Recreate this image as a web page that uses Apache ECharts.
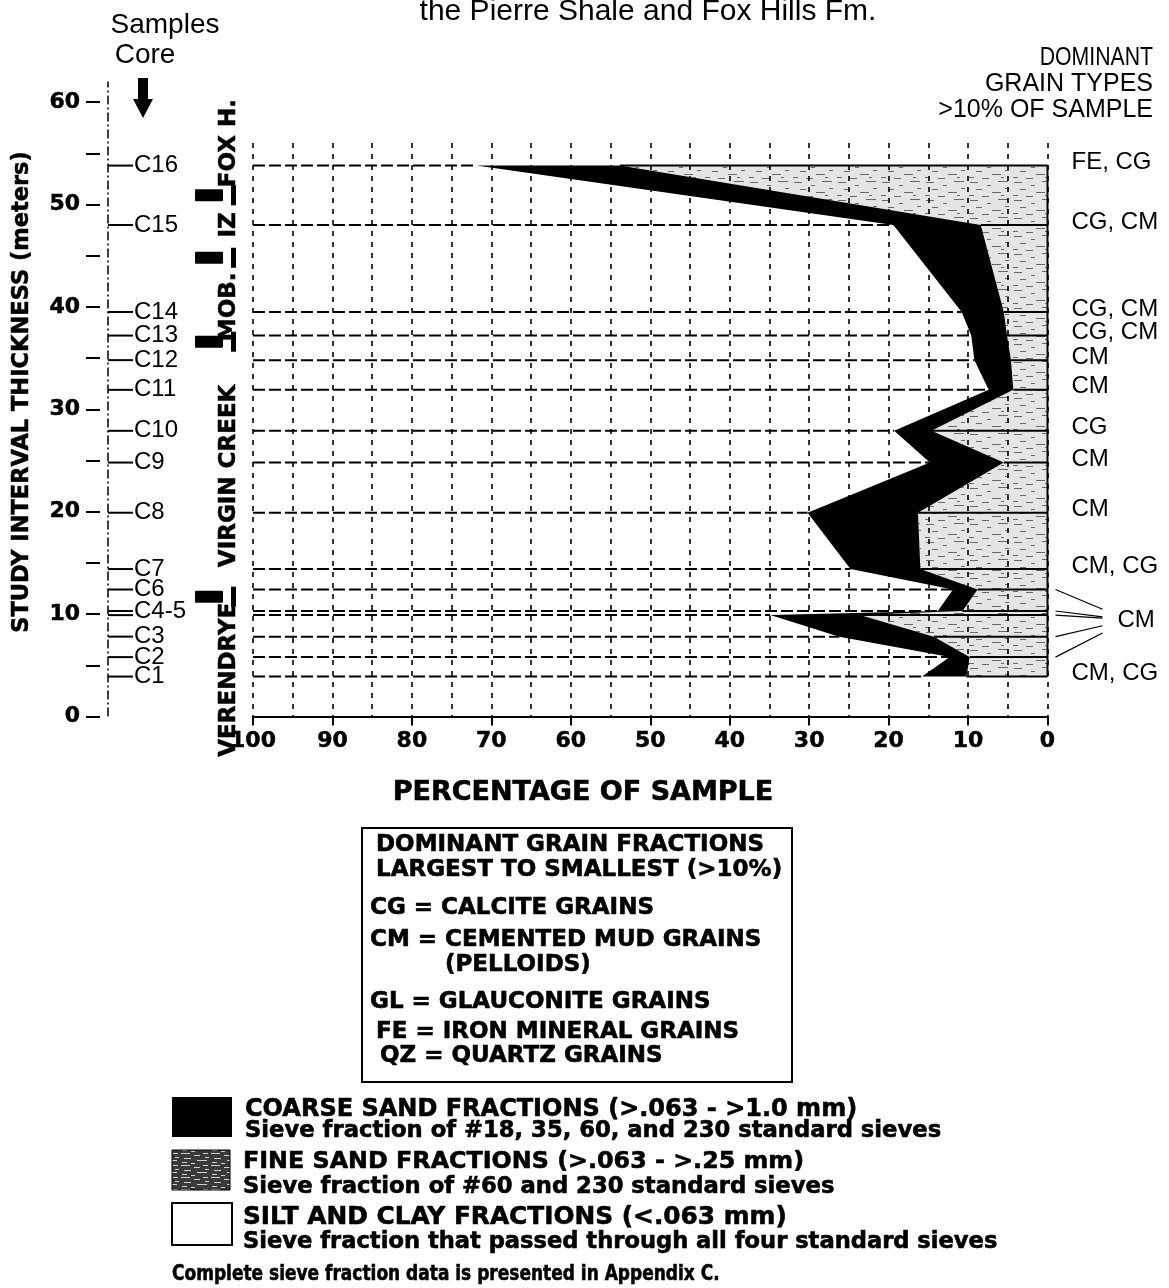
<!DOCTYPE html>
<html>
<head>
<meta charset="utf-8">
<script src="https://cdn.jsdelivr.net/npm/echarts@6/dist/echarts.min.js"></script>
<style>
  html, body { margin: 0; padding: 0; background: #fff; }
  #chart { width: 1169px; height: 1288px; }
</style>
</head>
<body>
<div id="chart"></div>
<script>
// ---- Sieve data, one entry per core sample (top to bottom) ----
const samples      = ['C16','C15','C14','C13','C12','C11','C10','C9','C8','C7','C6','C5','C4','C3','C2','C1'];
const sampleLabels = ['C16','C15','C14','C13','C12','C11','C10','C9','C8','C7','C6','C4-5','','C3','C2','C1'];
// depth of each sample above base of study interval (m)
const depths       = [53.8, 48.0, 39.5, 37.2, 34.8, 31.9, 27.9, 24.8, 19.9, 14.4, 12.4, 10.3, 9.9, 7.8, 5.8, 3.9];
// fine + coarse sand, cumulative (% of sample)
const sandTotal    = [71.9, 19.4, 10.8, 9.6, 9.2, 7.4, 19.3, 14.8, 30.2, 24.8, 11.9, 13.8, 34.9, 26.2, 12.3, 15.8];
// fine sand (% of sample)
const fineSand     = [53.8, 8.4, 5.5, 5.1, 4.6, 4.3, 14.6, 5.5, 16.3, 16.0, 8.8, 10.7, 23.6, 14.3, 9.8, 10.2];
// dominant grain types (>10% of sample)
const grainTypes   = ['FE, CG','CG, CM','CG, CM','CG, CM','CM','CM','CG','CM','CM','CM, CG','CM','CM','CM','CM','CM','CM, CG'];
const groupedSamples = ['C6','C5','C4','C3','C2'];

// ---- Formations ----
const formations          = ['FOX H.', 'IZ', 'MOB.', 'VIRGIN CREEK', 'VERENDRYE'];
const formationLabelDepth = [56.0, 48.0, 40.0, 23.5, 3.6];
const formationBoundaries = [50.9, 44.8, 36.6, 11.7];

// ---- Axis ticks ----
const percentTicks = [100, 90, 80, 70, 60, 50, 40, 30, 20, 10, 0];
const depthTicks   = [0, 10, 20, 30, 40, 50, 60];

// ---- Layout (pixels) ----
const BASE_Y = 716.5, PX_PER_M = 10.24;
const MAIN_LEFT = 253, MAIN_RIGHT = 1047.5;
const MAIN_TOP_M = 56, CORE_TOP_M = 60, CORE_LINE_TOP_M = 62;

const BOLD = '"DejaVu Sans"';
const REG = '"Liberation Sans", Arial, sans-serif';

function makePattern(w, h, bg, fg, marks) {
  const c = document.createElement('canvas');
  c.width = w; c.height = h;
  const g = c.getContext('2d');
  g.fillStyle = bg; g.fillRect(0, 0, w, h);
  g.fillStyle = fg;
  marks.forEach(m => g.fillRect(m[0], m[1], m[2], m[3]));
  return c;
}
// light stipple for the fine sand fraction
const stippleArea = makePattern(44, 18, 'rgba(0,0,0,0.10)', 'rgba(0,0,0,0.55)',
  [[2,2,8,1],[19,5,4,1],[30,1,10,1],[8,9,6,1],[24,12,9,1],[37,8,4,1],[1,15,5,1],[14,16,7,1],[33,15,3,1]]);
// dense stipple for the key swatch
const stippleKey = makePattern(30, 12, '#3a3a3a', '#d0d0d0',
  [[1,1,9,1],[14,3,6,1],[23,1,5,1],[4,6,7,1],[17,8,10,1],[2,10,5,1],[11,11,4,1],[25,5,4,1]]);
const pat = (c) => ({ type: 'pattern', image: c, repeat: 'repeat' });

const chart = echarts.init(document.getElementById('chart'), null, { renderer: 'canvas' });

// fine sand fraction: area from 0 % out to the fine sand curve
function renderFine(params, api) {
  const pts = [api.coord([0, depths[0]])];
  for (let i = 0; i < depths.length; i++) pts.push(api.coord([fineSand[i], depths[i]]));
  pts.push(api.coord([0, depths[depths.length - 1]]));
  return { type: 'polygon', shape: { points: pts }, style: { fill: pat(stippleArea) } };
}
// coarse sand fraction: band between fine sand curve and total sand curve
function renderCoarse(params, api) {
  const pts = [];
  for (let i = 0; i < depths.length; i++) pts.push(api.coord([sandTotal[i], depths[i]]));
  for (let i = depths.length - 1; i >= 0; i--) pts.push(api.coord([fineSand[i], depths[i]]));
  return { type: 'polygon', shape: { points: pts }, style: { fill: '#000' } };
}
// sample horizons: dashed across the silt/clay field, solid across the fine sand field
function renderHorizons(params, api) {
  const i = params.dataIndex, d = depths[i];
  const a = api.coord([100, d]), b = api.coord([sandTotal[i], d]);
  const c = api.coord([fineSand[i], d]), e = api.coord([0, d]);
  return { type: 'group', children: [
    { type: 'line', shape: { x1: a[0], y1: a[1], x2: b[0], y2: b[1] },
      style: { stroke: '#000', lineWidth: 2, lineDash: [12, 4] } },
    { type: 'line', shape: { x1: c[0], y1: c[1], x2: e[0], y2: e[1] },
      style: { stroke: '#000', lineWidth: 2 } }
  ] };
}
// right edge of the sampled column
function renderEdge(params, api) {
  const a = api.coord([0, depths[0]]), b = api.coord([0, depths[depths.length - 1]]);
  return { type: 'line', shape: { x1: a[0], y1: a[1], x2: b[0], y2: b[1] },
           style: { stroke: '#000', lineWidth: 2 } };
}
// dominant grain type labels
function renderGrainLabels(params, api) {
  const i = params.dataIndex;
  if (groupedSamples.indexOf(samples[i]) >= 0) return null;
  const p = api.coord([0, depths[i]]);
  return { type: 'text', x: p[0] + 24, y: p[1] - 3,
    style: { text: grainTypes[i], font: '24px ' + REG, fill: '#000',
             textAlign: 'left', textVerticalAlign: 'middle', verticalAlign: 'middle' } };
}
// shared label for closely spaced samples, with leader lines
function renderGroupLabel(params, api) {
  const idx = groupedSamples.map(s => samples.indexOf(s));
  const ys = idx.map(i => api.coord([0, depths[i]])[1]);
  const x0 = api.coord([0, 0])[0];
  const yg = ys.reduce((s, v) => s + v, 0) / ys.length - 2;
  const children = ys.map(y => ({ type: 'line',
    shape: { x1: x0 + 8, y1: y, x2: x0 + 55, y2: yg + (y - yg) * 0.35 },
    style: { stroke: '#000', lineWidth: 1.2 } }));
  children.push({ type: 'text', x: x0 + 70, y: yg,
    style: { text: grainTypes[idx[0]], font: '24px ' + REG, fill: '#000',
             textAlign: 'left', textVerticalAlign: 'middle', verticalAlign: 'middle' } });
  return { type: 'group', children };
}
// core sample ticks on the core axis
function renderSampleTicks(params, api) {
  const i = params.dataIndex, d = depths[i];
  const a = api.coord([8, d]), b = api.coord([33, d]);
  const children = [{ type: 'line', shape: { x1: a[0], y1: a[1], x2: b[0], y2: b[1] },
                      style: { stroke: '#000', lineWidth: 2 } }];
  if (sampleLabels[i]) {
    children.push({ type: 'text', x: b[0] + 1, y: b[1],
      style: { text: sampleLabels[i], font: '24px ' + REG, fill: '#000',
               textAlign: 'left', textVerticalAlign: 'middle', verticalAlign: 'middle' } });
  }
  return { type: 'group', children };
}
// formation contact markers
function renderContacts(params, api) {
  const d = formationBoundaries[params.dataIndex];
  const a = api.coord([95, d]), b = api.coord([123, d]);
  const v = api.coord([131, d]);
  return { type: 'group', children: [
    { type: 'rect', shape: { x: a[0], y: a[1] - 6, width: b[0] - a[0], height: 12, r: 1 }, style: { fill: '#000' } },
    { type: 'rect', shape: { x: v[0], y: v[1] - 10, width: 5, height: 20 }, style: { fill: '#000' } }
  ] };
}
// formation names, vertical
function renderFormations(params, api) {
  const i = params.dataIndex;
  const p = api.coord([129, formationLabelDepth[i]]);
  return { type: 'text', x: p[0], y: p[1], rotation: Math.PI / 2,
    style: { text: formations[i], font: 'bold 23px ' + BOLD, fill: '#000', stroke: '#000', lineWidth: 0.5,
             textAlign: 'center', textVerticalAlign: 'middle', verticalAlign: 'middle' } };
}

function label(x, y, text, font, opts) {
  opts = opts || {};
  const style = { text, font, fill: '#000', textAlign: opts.align || 'left',
                  textVerticalAlign: 'middle', verticalAlign: 'middle' };
  if (opts.heavy) { style.stroke = '#000'; style.lineWidth = opts.heavy; }
  return { type: 'text', x, y, rotation: opts.rot || 0, scaleX: opts.sx || 1, silent: true, style };
}
const B = (size) => 'bold ' + size + 'px ' + BOLD;
const H = { heavy: 0.6 };

const option = {
  animation: false,
  backgroundColor: '#fff',
  grid: [
    { left: MAIN_LEFT, width: MAIN_RIGHT - MAIN_LEFT,
      top: BASE_Y - MAIN_TOP_M * PX_PER_M, height: MAIN_TOP_M * PX_PER_M },
    { left: 100, width: 150,
      top: BASE_Y - CORE_TOP_M * PX_PER_M, height: CORE_TOP_M * PX_PER_M }
  ],
  xAxis: [
    { gridIndex: 0, type: 'value', position: 'bottom', min: 0, max: 100, interval: 5, inverse: true,
      axisLine: { show: false }, axisTick: { show: false }, axisLabel: { show: false },
      splitLine: { show: true, lineStyle: { color: '#000', width: 1.6, type: [5, 6] } } },
    { gridIndex: 0, type: 'value', position: 'bottom', min: 0, max: 100, interval: 10, inverse: true,
      axisLine: { show: true, onZero: false, lineStyle: { color: '#000', width: 2.2 } },
      axisTick: { show: true, length: 9, lineStyle: { color: '#000', width: 2 } },
      axisLabel: { show: true, margin: 14, color: '#000', fontFamily: BOLD, fontWeight: 'bold', fontSize: 22,
                   textBorderColor: '#000', textBorderWidth: 0.5,
                   formatter: v => percentTicks.indexOf(v) >= 0 ? String(v) : '' },
      splitLine: { show: false } },
    { gridIndex: 1, type: 'value', min: 0, max: 150, show: false }
  ],
  yAxis: [
    { gridIndex: 0, type: 'value', min: 0, max: MAIN_TOP_M, show: false },
    { gridIndex: 1, type: 'value', min: 0, max: CORE_TOP_M, interval: 5,
      axisLine: { show: false },
      axisTick: { show: true, length: 14, lineStyle: { color: '#000', width: 2 } },
      axisLabel: { show: true, margin: 20, color: '#000', fontFamily: BOLD, fontWeight: 'bold', fontSize: 22,
                   textBorderColor: '#000', textBorderWidth: 0.5,
                   formatter: v => depthTicks.indexOf(v) >= 0 ? String(v) : '' },
      splitLine: { show: false } }
  ],
  series: [
    { type: 'custom', xAxisIndex: 0, yAxisIndex: 0, data: [[0, 0]], renderItem: renderFine, clip: false, silent: true, z: 1 },
    { type: 'custom', xAxisIndex: 0, yAxisIndex: 0, data: [[0, 0]], renderItem: renderCoarse, clip: false, silent: true, z: 2 },
    { type: 'custom', xAxisIndex: 0, yAxisIndex: 0, data: depths.map(d => [0, d]), renderItem: renderHorizons, clip: false, silent: true, z: 3 },
    { type: 'custom', xAxisIndex: 0, yAxisIndex: 0, data: [[0, 0]], renderItem: renderEdge, clip: false, silent: true, z: 3 },
    { type: 'custom', xAxisIndex: 0, yAxisIndex: 0, data: depths.map(d => [0, d]), renderItem: renderGrainLabels, clip: false, silent: true, z: 4 },
    { type: 'custom', xAxisIndex: 0, yAxisIndex: 0, data: [[0, 0]], renderItem: renderGroupLabel, clip: false, silent: true, z: 4 },
    // core axis
    { type: 'line', xAxisIndex: 2, yAxisIndex: 1, data: [[8, 0], [8, CORE_LINE_TOP_M]], symbol: 'none', clip: false, silent: true,
      lineStyle: { color: '#000', width: 1.5, type: [9, 3, 2, 3] }, z: 3 },
    { type: 'custom', xAxisIndex: 2, yAxisIndex: 1, data: depths.map(d => [8, d]), renderItem: renderSampleTicks, clip: false, silent: true, z: 4 },
    { type: 'custom', xAxisIndex: 2, yAxisIndex: 1, data: formationBoundaries.map(d => [120, d]), renderItem: renderContacts, clip: false, silent: true, z: 4 },
    { type: 'custom', xAxisIndex: 2, yAxisIndex: 1, data: formationLabelDepth.map(d => [129, d]), renderItem: renderFormations, clip: false, silent: true, z: 5 }
  ],
  graphic: [
    label(648, 12, 'the Pierre Shale and Fox Hills Fm.', '30px ' + REG, { align: 'center' }),
    label(165, 25, 'Samples', '28px ' + REG, { align: 'center' }),
    label(145, 55, 'Core', '28px ' + REG, { align: 'center' }),
    { type: 'polygon', silent: true,
      shape: { points: [[138, 78], [148, 78], [148, 99], [153, 99], [143, 118], [133, 99], [138, 99]] },
      style: { fill: '#000' } },
    label(1153, 58, 'DOMINANT', '25px ' + REG, { align: 'right', sx: 0.85 }),
    label(1153, 84, 'GRAIN TYPES', '25px ' + REG, { align: 'right' }),
    label(1153, 110, '>10% OF SAMPLE', '25px ' + REG, { align: 'right' }),
    label(22, 392, 'STUDY INTERVAL THICKNESS (meters)', B(22.5), { align: 'center', rot: Math.PI / 2, heavy: 0.5 }),
    label(583, 793, 'PERCENTAGE OF SAMPLE', B(27), { align: 'center', heavy: 0.6 }),
    // grain type key
    { type: 'rect', silent: true, shape: { x: 362, y: 828, width: 430, height: 254 },
      style: { fill: 'none', stroke: '#000', lineWidth: 2 } },
    label(376, 845, 'DOMINANT GRAIN FRACTIONS', B(23), H),
    label(376, 870, 'LARGEST TO SMALLEST (>10%)', B(23), H),
    label(370, 908, 'CG = CALCITE GRAINS', B(23), H),
    label(370, 940, 'CM = CEMENTED MUD GRAINS', B(23), H),
    label(445, 965, '(PELLOIDS)', B(23), H),
    label(370, 1002, 'GL = GLAUCONITE GRAINS', B(23), H),
    label(376, 1032, 'FE = IRON MINERAL GRAINS', B(23), H),
    label(380, 1056, 'QZ = QUARTZ GRAINS', B(23), H),
    // size fraction key
    { type: 'rect', silent: true, shape: { x: 172, y: 1097, width: 60, height: 40 }, style: { fill: '#000' } },
    { type: 'rect', silent: true, shape: { x: 172, y: 1150, width: 58, height: 40 },
      style: { fill: pat(stippleKey), stroke: '#000', lineWidth: 1 } },
    { type: 'rect', silent: true, shape: { x: 172, y: 1203, width: 60, height: 42 },
      style: { fill: '#fff', stroke: '#000', lineWidth: 2 } },
    label(245, 1110, 'COARSE SAND FRACTIONS (>.063 - >1.0 mm)', B(24), H),
    label(245, 1131, 'Sieve fraction of #18, 35, 60, and 230 standard sieves', B(22.7), H),
    label(243, 1162, 'FINE SAND FRACTIONS (>.063 - >.25 mm)', B(23.8), H),
    label(243, 1187, 'Sieve fraction of #60 and 230 standard sieves', B(22.7), H),
    label(243, 1218, 'SILT AND CLAY FRACTIONS (<.063 mm)', B(24.8), H),
    label(243, 1242, 'Sieve fraction that passed through all four standard sieves', B(22.6), H),
    label(172, 1275, 'Complete sieve fraction data is presented in Appendix C.', B(21), { heavy: 0.6, sx: 0.81 })
  ]
};

chart.setOption(option);
</script>
</body>
</html>
